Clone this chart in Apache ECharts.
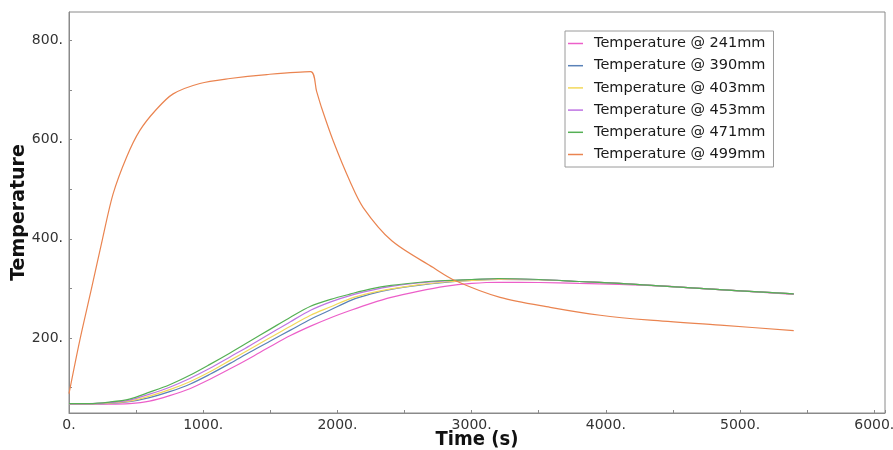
<!DOCTYPE html>
<html>
<head>
<meta charset="utf-8">
<script src="https://cdn.jsdelivr.net/npm/echarts@6/dist/echarts.min.js"></script>
<style>html,body{margin:0;padding:0;background:#fff}#c{width:893px;height:450px}</style>
</head>
<body>
<div id="c"></div>
<script>
// ---- data ----
const seriesNames = ['Temperature @ 241mm','Temperature @ 390mm','Temperature @ 403mm','Temperature @ 453mm','Temperature @ 471mm','Temperature @ 499mm'];
const timesLow = [0,150,300,450,600,750,900,1050,1200,1350,1500,1650,1800,1950,2100,2250,2400,2600,2800,3000,3200,3500,3800,4100,4400,4700,5000,5400];
const t241 = [67,67,67,68,73,84,98,117,138,160,183,205,224,241,256,270,282,294,304,310,312.5,312,310,308,305,300,295,288];
const t390 = [68,68,68.5,72,80,92,107,127,149,172,194,216,238,257,276,289,298,306,312,316,318,317.5,314,310,305,300,295,289];
const t403 = [68,68,69,73,83,96,112,132,155,178,201,224,246,263,280,291,299,307,313,316,318,317.5,314,310,305,300,295,289];
const t453 = [68,68,70,75,87,101,118.5,139,162,185,209,233,256,273,286,296,304,311,315,318,319.5,318,314,310,305,300,295,289];
const t471 = [68,68,71,77,91,106,125,147,170,194,218,242,264,278,289,299,306,312,316,318,320,318,314,310,305,300,295,289];
const times499 = [0,80,167,249,328,428,527,652,776,975,1200,1474,1800,1845,1882,1969,2093,2192,2405,2714,2876,3212,3585,3958,4330,4854,5400];
const t499 = [88,195,299,399,490,564,618,661,692,713,723,731,737,697,664,597,516,463,396,342,316,282,262,246,236,226,215];
const xTickLabels = ['0.','1000.','2000.','3000.','4000.','5000.','6000.'];
const yTickLabels = ['200.','400.','600.','800.'];

const colors = ['#ec5fc9','#5a82b8','#f3d85a','#bf73e3','#55b055','#ea8450'];
const lowSets = [t241,t390,t403,t453,t471];

function pairs(xs, ys){ return xs.map((x,i)=>[x, ys[i]]); }

const series = lowSets.map((vals,i)=>({
  name: seriesNames[i], type:'line', data: pairs(timesLow, vals),
  showSymbol:false, symbol:'none', smooth:0.3,
  lineStyle:{width:1.2, color:colors[i]}, itemStyle:{color:colors[i]}, z:2+i
}));
series.push({
  name: seriesNames[5], type:'line', data: pairs(times499, t499),
  showSymbol:false, symbol:'none', smooth:0.3,
  lineStyle:{width:1.2, color:colors[5]}, itemStyle:{color:colors[5]}, z:8
});

const axisColor = '#8a8a8a';
const chart = echarts.init(document.getElementById('c'), null, {renderer:'canvas'});
chart.setOption({
  animation:false,
  backgroundColor:'#ffffff',
  color: colors,
  grid:{left:69, right:8, top:12, bottom:37, containLabel:false, outerBoundsMode:'none',
        show:true, borderColor:axisColor, borderWidth:1, backgroundColor:'transparent'},
  legend:{
    orient:'vertical', left:565, top:31, width:208,
    data: seriesNames,
    icon:'rect', itemWidth:15, itemHeight:1.5, itemGap:7.2,
    padding:[5,8,5,3],
    borderColor:'#9a9a9a', borderWidth:1, backgroundColor:'#ffffff',
    textStyle:{fontFamily:'DejaVu Sans', fontSize:14.5, color:'#1a1a1a', padding:[0,0,0,6]}
  },
  xAxis:{
    type:'value', min:0, max:6080, interval:500,
    name:'Time (s)', nameLocation:'middle', nameGap:17, nameMoveOverlap:false,
    nameTextStyle:{fontFamily:'DejaVu Sans Condensed', fontWeight:'bold', fontSize:20, color:'#111'},
    axisLine:{show:true, onZero:false, lineStyle:{color:axisColor, width:1}},
    axisTick:{show:true, inside:true, length:3, lineStyle:{color:axisColor}},
    splitLine:{show:false},
    axisLabel:{fontFamily:'DejaVu Sans', fontSize:14, color:'#333', margin:5,
      formatter: v => { const k = v/1000; return (Number.isInteger(k) && k < xTickLabels.length) ? xTickLabels[k] : ''; }}
  },
  yAxis:{
    type:'value', min:49, max:857, splitNumber:8,
    name:'Temperature', nameLocation:'middle', nameGap:40, nameMoveOverlap:false,
    nameTextStyle:{fontFamily:'DejaVu Sans', fontWeight:'bold', fontSize:19, color:'#111'},
    axisLine:{show:true, onZero:false, lineStyle:{color:axisColor, width:1}},
    axisTick:{show:true, inside:true, length:3, lineStyle:{color:axisColor}},
    splitLine:{show:false},
    axisLabel:{fontFamily:'DejaVu Sans', fontSize:14, color:'#333', margin:6, showMinLabel:false, showMaxLabel:false,
      formatter: v => { const k = v/200; return (Number.isInteger(k) && k>=1 && k<=yTickLabels.length) ? yTickLabels[k-1] : ''; }}
  },
  series: series
});
</script>
</body>
</html>
